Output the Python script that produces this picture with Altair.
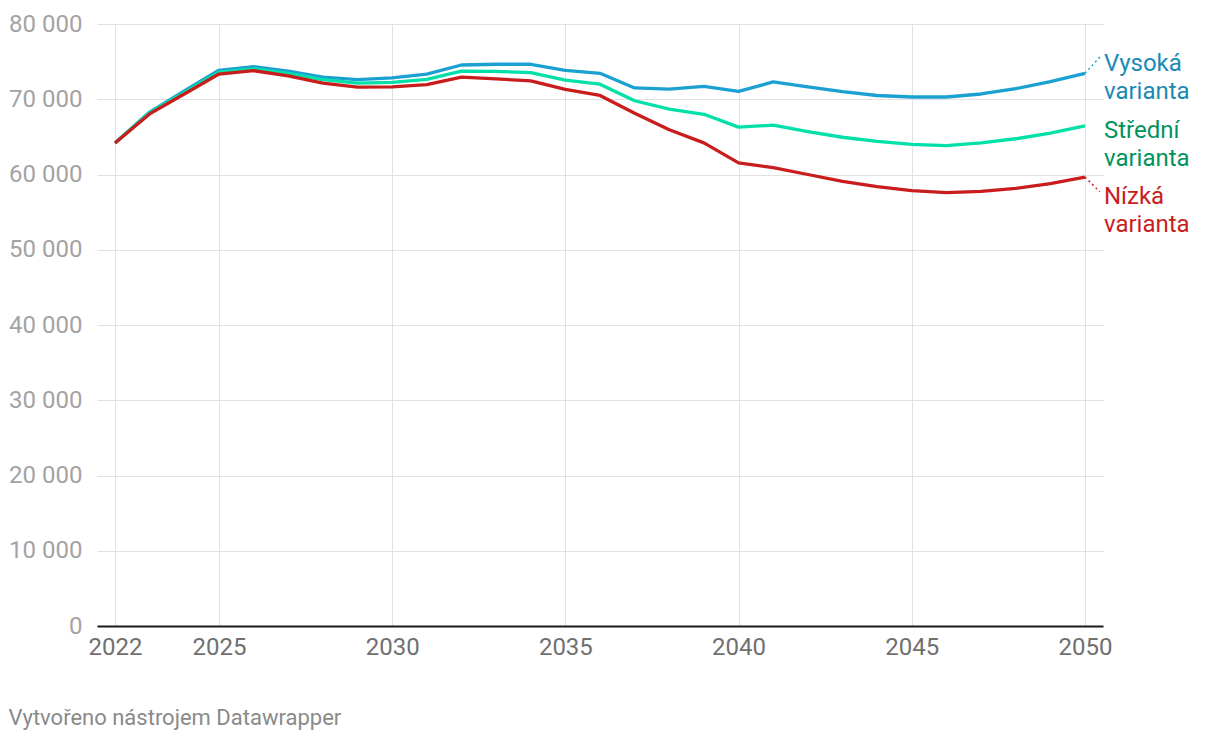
import altair as alt
import pandas as pd

years = list(range(2022, 2051))

vysoka = [64200, 68300, 71100, 73850, 74350, 73750, 72950, 72600, 72850, 73350,
          74550, 74650, 74650, 73850, 73450, 71500, 71350, 71700, 71050, 72300,
          71650, 71000, 70500, 70300, 70300, 70700, 71400, 72350, 73450]
stredni = [64200, 68200, 70900, 73600, 74050, 73450, 72600, 72150, 72250, 72650,
           73750, 73700, 73550, 72550, 72000, 69800, 68700, 68000, 66300, 66550,
           65700, 64950, 64400, 64000, 63850, 64200, 64750, 65500, 66450]
nizka = [64200, 68050, 70700, 73350, 73800, 73100, 72150, 71600, 71650, 71950,
         72950, 72700, 72450, 71300, 70500, 68150, 65950, 64200, 61550, 60900,
         60000, 59100, 58400, 57850, 57600, 57750, 58150, 58800, 59650]

series_names = ["Vysoká varianta", "Střední varianta", "Nízká varianta"]
label_texts = ["Vysoká\nvarianta", "Střední\nvarianta", "Nízká\nvarianta"]
line_colors = ["#1ba1d1", "#00e0a8", "#c91d1d"]
label_colors = ["#1a8ab5", "#00935e", "#c91d1d"]
label_y = [73750, 64850, 56100]          # baseline of first label line (data units)
connector_y = [75600, None, 57700]       # where the dotted leader ends

x_ticks = [2022, 2025, 2030, 2035, 2040, 2045, 2050]
y_ticks = [0, 10000, 20000, 30000, 40000, 50000, 60000, 70000, 80000]

rows = []
for name, vals in zip(series_names, [vysoka, stredni, nizka]):
    for yr, v in zip(years, vals):
        rows.append({"rok": yr, "hodnota": v, "varianta": name})
df = pd.DataFrame(rows)

ends = [vysoka[-1], stredni[-1], nizka[-1]]
lab_df = pd.DataFrame({
    "rok": [years[-1]] * 3,
    "hodnota": label_y,
    "text": label_texts,
    "barva": label_colors,
})
con_rows = []
for end, cy, col in zip(ends, connector_y, line_colors):
    if cy is not None:
        con_rows.append({"rok": years[-1], "rok2": years[-1] + 0.43,
                         "hodnota": end, "hodnota2": cy, "barva": col})
con_df = pd.DataFrame(con_rows)

FONT = "Roboto"

x_scale = alt.Scale(domain=[2021.48, 2050.52], nice=False, zero=False)
y_scale = alt.Scale(domain=[0, 80000], nice=False)

lines = alt.Chart(df).mark_line(strokeWidth=3.3, strokeJoin="round").encode(
    x=alt.X("rok:Q", scale=x_scale, title=None,
            axis=alt.Axis(values=x_ticks, format="d", grid=True, gridColor="#e1e1e1",
                          ticks=False, domain=True, domainColor="#1a1a1a", domainWidth=2,
                          labelFont=FONT, labelFontSize=24, labelColor="#707070",
                          labelPadding=9, labelFlush=False)),
    y=alt.Y("hodnota:Q", scale=y_scale, title=None,
            axis=alt.Axis(values=y_ticks, grid=True, gridColor="#e1e1e1", ticks=False,
                          domain=False, labelFont=FONT, labelFontSize=24,
                          labelColor="#a3a3a3", labelPadding=15,
                          labelExpr="replace(format(datum.value, ','), ',', ' ')")),
    color=alt.Color("varianta:N", scale=alt.Scale(domain=series_names, range=line_colors),
                    legend=None),
    order=alt.Order("rok:Q"),
)

connectors = alt.Chart(con_df).mark_rule(strokeWidth=1.5, strokeDash=[2, 3]).encode(
    x="rok:Q", x2="rok2:Q", y="hodnota:Q", y2="hodnota2:Q",
    color=alt.Color("barva:N", scale=None),
)

labels = alt.Chart(lab_df).mark_text(
    align="left", baseline="alphabetic", dx=19, font=FONT, fontSize=24,
    lineBreak="\n", lineHeight=28,
).encode(
    x="rok:Q", y="hodnota:Q", text="text:N",
    color=alt.Color("barva:N", scale=None),
)

chart = alt.layer(lines, connectors, labels).properties(
    width=1006, height=602,
    padding={"left": 0, "top": 4, "right": 5, "bottom": 5},
    title=alt.TitleParams("Vytvořeno nástrojem Datawrapper", orient="bottom", anchor="start",
                          font=FONT, fontSize=22, fontWeight="normal", color="#8a8a8a",
                          offset=49),
).configure_view(stroke=None)

chart.save("out.html", embed_options={"renderer": "svg", "actions": False})
